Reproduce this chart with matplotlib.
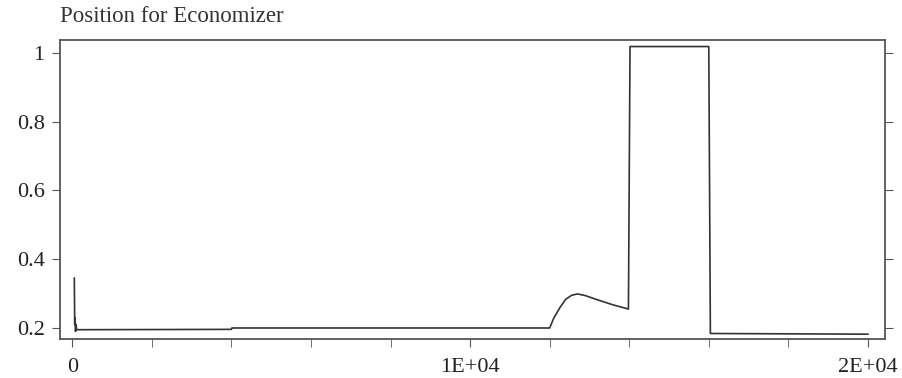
import matplotlib.pyplot as plt

plt.rcParams['font.family'] = ['Liberation Serif', 'DejaVu Serif']

# time [s] and economizer damper position
time = [50, 60, 70, 80, 90, 110, 4000, 4010, 12000, 12100, 12250, 12400, 12550,
        12700, 12900, 13200, 13600, 13980, 14020, 16000, 16040, 20000]
position = [0.345, 0.21, 0.23, 0.19, 0.21, 0.195, 0.196, 0.2, 0.2, 0.228, 0.258,
            0.283, 0.295, 0.299, 0.294, 0.282, 0.267, 0.255, 1.018, 1.018, 0.184,
            0.182]

xticks = [0, 10000, 20000]
xtick_labels = ['0', '1E+04', '2E+04']
yticks = [0.2, 0.4, 0.6, 0.8, 1.0]
ytick_labels = ['0.2', '0.4', '0.6', '0.8', '1']

fig = plt.figure(figsize=(9.02, 3.78), dpi=100)
ax = fig.add_axes([60 / 902, 1 - 339 / 378, 825 / 902, 299 / 378])

ax.plot(time, position, color='#333333', lw=1.2)

ax.set_xlim(-310, 20430)
ax.set_ylim(0.168, 1.037)

ax.set_xticks(xticks)
ax.set_xticklabels(xtick_labels)
ax.set_xticks(range(0, 20001, 2000), minor=True)
ax.set_yticks(yticks)
ax.set_yticklabels(ytick_labels)

ax.tick_params(axis='both', which='both', direction='out', color='#555555',
               labelsize=16, labelcolor='#222222', length=6)
ax.tick_params(axis='x', which='major', pad=8)
ax.tick_params(axis='y', right=True, pad=5)

for s in ax.spines.values():
    s.set_color('#555555')
    s.set_linewidth(1.3)

fig.text(60 / 902, 1 - 17 / 378, 'Position for Economizer', fontsize=16.5,
         color='#333333', va='center', ha='left')

fig.savefig('out.png', dpi=100)
